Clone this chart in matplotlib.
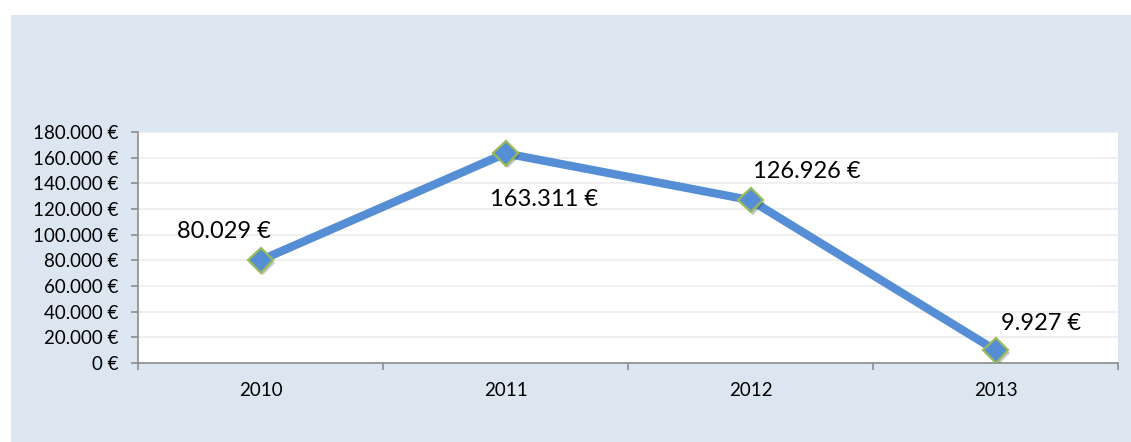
import matplotlib
matplotlib.use("Agg")
import matplotlib.pyplot as plt
from matplotlib.patches import Rectangle
import matplotlib.patheffects as pe

years = ["2010", "2011", "2012", "2013"]
values = [80029, 163311, 126926, 9927]
value_labels = ["80.029 €", "163.311 €", "126.926 €", "9.927 €"]
y_ticks = [0, 20000, 40000, 60000, 80000, 100000, 120000, 140000, 160000, 180000]
y_tick_labels = ["0 €", "20.000 €", "40.000 €", "60.000 €", "80.000 €", "100.000 €",
                 "120.000 €", "140.000 €", "160.000 €", "180.000 €"]

plt.rcParams['font.family'] = ['Lato', 'DejaVu Sans']

W, H = 1131, 442
fig = plt.figure(figsize=(W / 100, H / 100), dpi=100)
fig.patch.set_facecolor("white")
fig.patches.append(Rectangle((11 / W, 0), 1 - 11 / W, (H - 15) / H,
                             transform=fig.transFigure, facecolor="#dce6f1",
                             edgecolor="none", zorder=-10))

ax = fig.add_axes([138 / W, (H - 363) / H, 980 / W, 231 / H])
ax.set_zorder(1)
ax.set_facecolor("white")

x = list(range(len(years)))
shadow = [pe.SimplePatchShadow(offset=(1.5, -2), alpha=0.25), pe.Normal()]
ax.plot(x, values, color="#558ed5", linewidth=6, solid_capstyle="butt",
        solid_joinstyle="miter", zorder=3)
ax.plot(x, values, linestyle="none", marker="D", markersize=12.5,
        markerfacecolor="#558ed5", markeredgecolor="#9bbb59",
        markeredgewidth=1.6, zorder=4, path_effects=shadow)

offsets = [(-36.5, 29), (39, -46), (56, 29), (46, 27)]
for xi, v, lab, (dx, dy) in zip(x, values, value_labels, offsets):
    ax.annotate(lab, (xi, v), xytext=(dx * 0.72, dy * 0.72),
                textcoords="offset points", ha="center", va="center",
                fontsize=17, color="black", zorder=5)

ax.set_xlim(-0.5, len(years) - 0.5)
ax.set_ylim(0, 180000)
ax.set_yticks(y_ticks)
ax.set_yticklabels(y_tick_labels, fontsize=13.5)
ax.yaxis.grid(True, color="#ececec", linewidth=1.2)
ax.set_axisbelow(True)

ax.set_xticks(x)
ax.set_xticklabels(years, fontsize=13.5)
ax.tick_params(axis="x", which="major", length=0, pad=14)
ax.set_xticks([i - 0.5 for i in range(len(years) + 1)], minor=True)
ax.tick_params(axis="x", which="minor", length=5, color="#8c8c8c", width=1.2)
ax.tick_params(axis="y", length=5, color="#8c8c8c", width=1.2, pad=9)

for s in ["top", "right"]:
    ax.spines[s].set_visible(False)
for s in ["left", "bottom"]:
    ax.spines[s].set_color("#8c8c8c")
    ax.spines[s].set_linewidth(1.2)

fig.savefig("out.png", dpi=100, facecolor=fig.get_facecolor())
